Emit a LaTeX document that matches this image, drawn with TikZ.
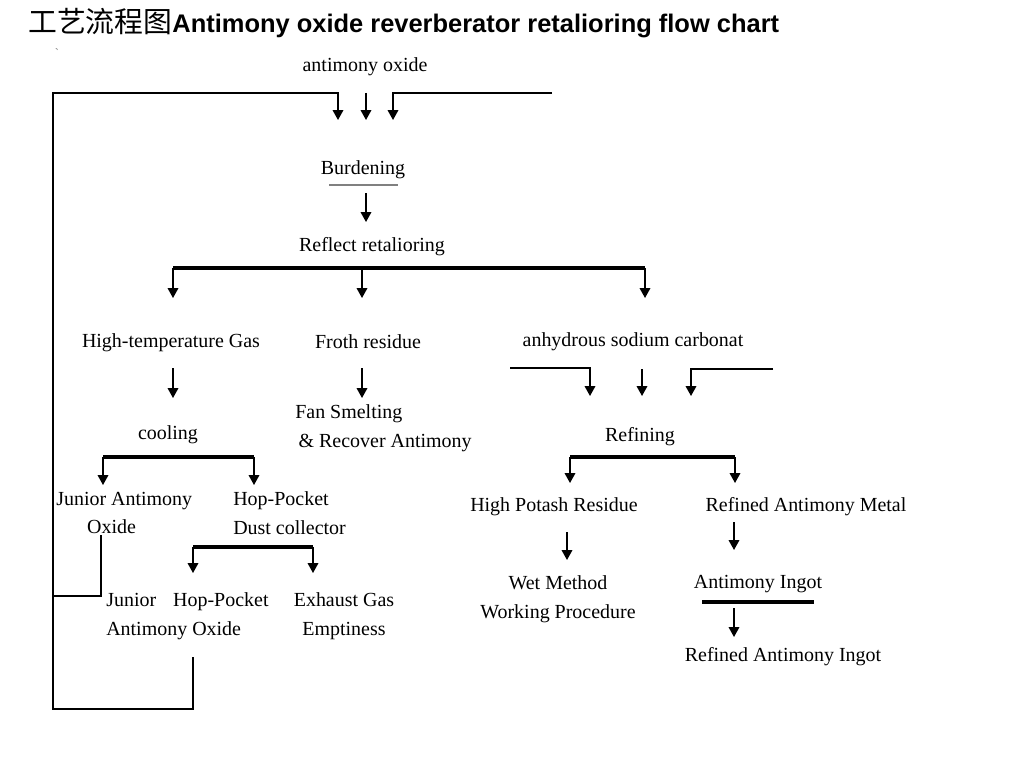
\documentclass[tikz,border=0pt]{standalone}
\usepackage{fontspec}
\setmainfont{Liberation Serif}
\newfontfamily\titlefont{Liberation Sans}
\newfontfamily\cjk{Noto Sans CJK SC}
\usetikzlibrary{positioning}
\usetikzlibrary{arrows.meta}
\tikzset{
    lbl/.style = {inner sep=0pt, align=center, font=\fontsize{14.2}{20.4}\selectfont},
    lbll/.style = {inner sep=0pt, align=left, anchor=west, font=\fontsize{14.2}{20.4}\selectfont},
    edgen/.style = {-{Triangle[width=7.5pt,length=7pt]}, line width=1pt},
    wire/.style = {line width=1pt},
    bus/.style = {line width=3pt},
}
\begin{document}
\begin{tikzpicture}[x=0.025cm,y=-0.025cm]
%
\path[use as bounding box, fill=white] (0,0) rectangle (1024,768);
%
\node[anchor=base west, inner sep=0pt] (title) at (28,33)
  {{\cjk\fontsize{20.5}{24}\selectfont 工艺流程图}{\titlefont\bfseries\fontsize{18.1}{21}\selectfont Antimony oxide reverberator retalioring flow chart}};
\node[inner sep=0pt, font=\small, text=gray] (tick) at (57,53) {\textasciigrave};
%
\node[lbl] (sbo) at (365,67) {antimony oxide};
\node[lbl] (burden) at (363,170) {Burdening};
\node[lbl] (reflect) at (372,247) {Reflect retalioring};
\node[lbl] (hgas) at (171,343) {High-temperature Gas};
\node[lbl] (froth) at (368,342) {Froth residue};
\node[lbl] (soda) at (633,342) {anhydrous sodium carbonat};
\node[lbl] (cool) at (168,435) {cooling};
\node[lbll] (fan) at (295,428) {Fan Smelting\\\,\& Recover Antimony};
\node[lbll] (jao) at (56,513) {Junior Antimony\\\hspace{1.55em}Oxide};
\node[lbll] (hop) at (233,513) {Hop-Pocket\\Dust collector};
\node[lbll] (jhp) at (106,616) {Junior\hspace{0.85em}Hop-Pocket\\Antimony Oxide};
\node[lbl] (exh) at (344,616) {Exhaust Gas\\Emptiness};
\node[lbl] (refine) at (640,437) {Refining};
\node[lbl] (potash) at (554,507) {High Potash Residue};
\node[lbl] (metal) at (806,507) {Refined Antimony Metal};
\node[lbl] (wet) at (558,599) {Wet Method\\Working Procedure};
\node[lbl] (ingot) at (758,584) {Antimony Ingot};
\node[lbl] (final) at (783,657) {Refined Antimony Ingot};
%
\coordinate (in1) at (338,93);
\coordinate (in2) at (366,93);
\coordinate (in3) at (393,93);
\coordinate (loopa) at (193,657);
\coordinate (loopb) at (101,535);
%
\draw[edgen] (loopa) |- (53,709) |- (in1) -- (338,120);
\draw[edgen] (in2) -- (366,120);
\draw[edgen] (552,93) -| (393,120);
\draw[wire] (loopb) |- (53,596);
\draw[wire, gray] (329,185) -- (398,185);
\draw[edgen] (366,193) -- (366,222);
%
\draw[bus] (173,268) -- (645,268);
\draw[edgen] (173,268) -- (173,298);
\draw[edgen] (362,268) -- (362,298);
\draw[edgen] (645,268) -- (645,298);
%
\draw[edgen] (173,368) -- (173,398);
\draw[edgen] (362,368) -- (362,398);
%
\draw[bus] (103,457) -- (254,457);
\draw[edgen] (103,457) -- (103,485);
\draw[edgen] (254,457) -- (254,485);
\draw[bus] (193,547) -- (313,547);
\draw[edgen] (193,547) -- (193,573);
\draw[edgen] (313,547) -- (313,573);
%
\draw[edgen] (510,368) -| (590,396);
\draw[edgen] (642,369) -- (642,396);
\draw[edgen] (773,369) -| (691,396);
\draw[bus] (570,457) -- (735,457);
\draw[edgen] (570,457) -- (570,483);
\draw[edgen] (735,457) -- (735,483);
\draw[edgen] (567,532) -- (567,560);
\draw[edgen] (734,522) -- (734,550);
\draw[bus] (702,602) -- (814,602);
\draw[edgen] (734,608) -- (734,637);

\end{tikzpicture}
\end{document}
